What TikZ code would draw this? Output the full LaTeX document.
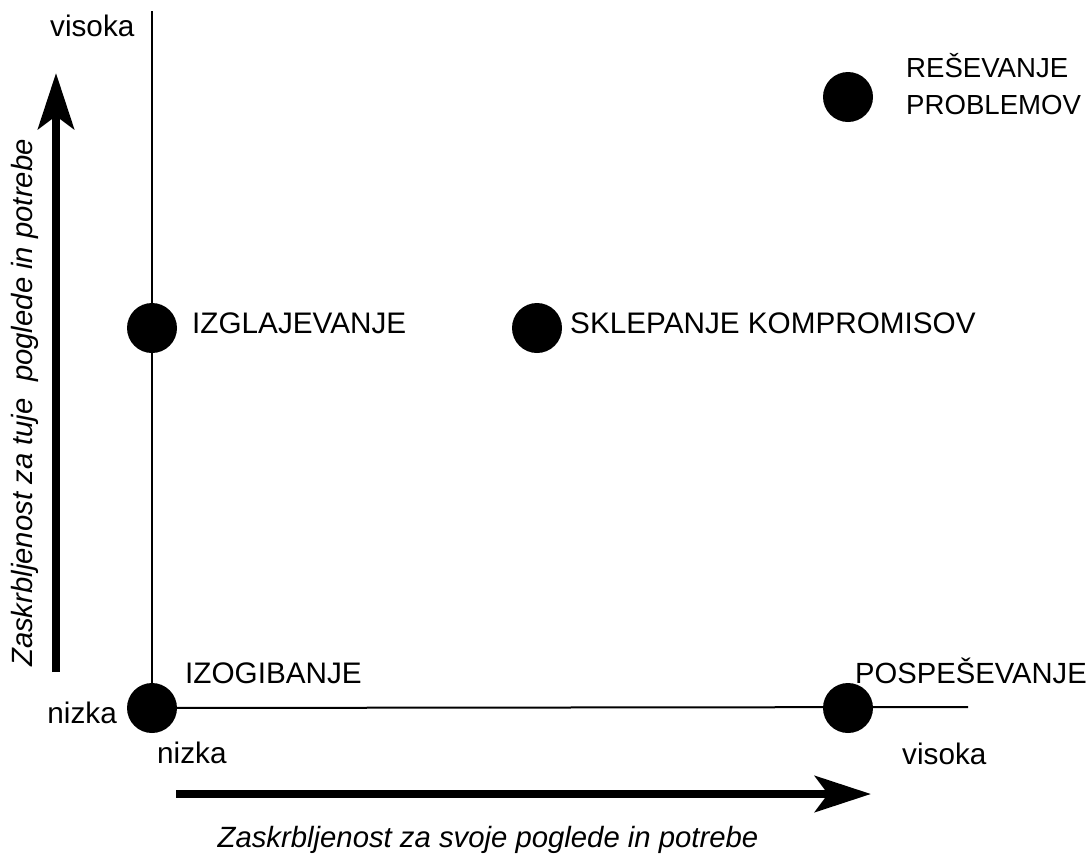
\documentclass[tikz,border=0pt]{standalone}
\usepackage{fontspec}
\setmainfont{Liberation Sans}
\usetikzlibrary{arrows.meta}
\begin{document}
\begin{tikzpicture}[x=1pt,y=-1pt,
  lbl/.style={inner sep=0pt, font=\fontsize{29.7}{36}\selectfont},
  smalllbl/.style={inner sep=0pt, font=\fontsize{27.6}{34}\selectfont},
  midlbl/.style={inner sep=0pt, font=\fontsize{29.2}{35}\selectfont},
  ital/.style={inner sep=0pt, font=\fontsize{29.3}{35}\selectfont\itshape},
  dot/.style={circle, fill=black, minimum size=50pt, inner sep=0pt},
  axisline/.style={line width=2pt},
  bigarrow/.style={line width=8.5pt, -{Stealth[length=56pt,width=36pt,inset=13pt]}}]
\useasboundingbox (0,0) rectangle (1092,855);
% axis end points
\coordinate (vtop) at (152,11);
\coordinate (hend) at (968,707);
% dots
\node[dot] (izog) at (152,708) {};
\node[dot] (posp) at (848,708) {};
\node[dot] (izgl) at (152,328) {};
\node[dot] (skle) at (537,328) {};
\node[dot] (rese) at (848,97) {};
% axes
\draw[axisline] (vtop) -- (izog.center);
\draw[axisline] (izog.center) -- (hend);
% labels
\node[lbl, anchor=base west] (lvis) at (50,36) {visoka};
\node[lbl, anchor=base east] (lniz) at (117,723) {nizka};
\node[lbl, anchor=base west] (bniz) at (157,763) {nizka};
\node[lbl, anchor=base west] (bvis) at (902,764) {visoka};
\node[lbl, anchor=base west] (tizog) at (185,683) {IZOGIBANJE};
\node[midlbl, anchor=base west] (tposp) at (855,683) {POSPEŠEVANJE};
\node[lbl, anchor=base west] (tizgl) at (192,333) {IZGLAJEVANJE};
\node[lbl, anchor=base west] (tskle) at (570,333) {SKLEPANJE KOMPROMISOV};
\node[smalllbl, anchor=base west] (trese1) at (906,77) {REŠEVANJE};
\node[smalllbl, anchor=base west] (trese2) at (906,114) {PROBLEMOV};
% axis arrows
\coordinate (va0) at (56,672);
\coordinate (va1) at (56,73);
\coordinate (ha0) at (176,794);
\coordinate (ha1) at (871,794);
\draw[bigarrow] (va0) -- (va1);
\draw[bigarrow] (ha0) -- (ha1);
\node[ital, rotate=90, anchor=base] (ytitle) at (32,403) {Zaskrbljenost za tuje\ \ poglede in potrebe};
\node[ital, anchor=base] (xtitle) at (488,847) {Zaskrbljenost za svoje poglede in potrebe};
\end{tikzpicture}
\end{document}
